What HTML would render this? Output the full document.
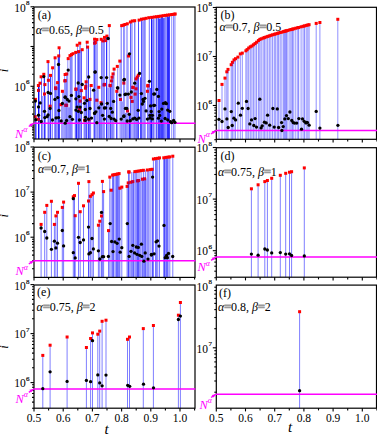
<!DOCTYPE html>
<html><head><meta charset="utf-8"><style>
html,body{margin:0;padding:0;background:#fff;width:377px;height:435px;overflow:hidden;font-family:"Liberation Serif",serif;}
svg text{font-family:"Liberation Serif",serif;}
</style></head><body>
<svg width="377" height="435" viewBox="0 0 377 435" style="position:absolute;left:0;top:0">
<rect x="0" y="0" width="377" height="435" fill="#fff"/>
<g stroke="#0000ff" stroke-width="1">
<line x1="35.5" y1="139.0" x2="35.5" y2="99.4" stroke-opacity="0.71"/>
<line x1="36.4" y1="139.0" x2="36.4" y2="121.3" stroke-opacity="0.43"/>
<line x1="38.5" y1="139.0" x2="38.5" y2="85.5" stroke-opacity="0.95"/>
<line x1="39.5" y1="139.0" x2="39.5" y2="83.2" stroke-opacity="0.43"/>
<line x1="41.5" y1="139.0" x2="41.5" y2="76.8" stroke-opacity="0.57"/>
<line x1="42.4" y1="139.0" x2="42.4" y2="96.0" stroke-opacity="0.43"/>
<line x1="44.3" y1="139.0" x2="44.3" y2="74.3" stroke-opacity="1.00"/>
<line x1="45.5" y1="139.0" x2="45.5" y2="96.0" stroke-opacity="0.43"/>
<line x1="48.2" y1="139.0" x2="48.2" y2="61.6" stroke-opacity="0.84"/>
<line x1="49.6" y1="139.0" x2="49.6" y2="106.2" stroke-opacity="0.43"/>
<line x1="50.7" y1="139.0" x2="50.7" y2="75.4" stroke-opacity="0.95"/>
<line x1="52.5" y1="139.0" x2="52.5" y2="67.8" stroke-opacity="0.43"/>
<line x1="54.9" y1="139.0" x2="54.9" y2="57.8" stroke-opacity="0.71"/>
<line x1="55.9" y1="139.0" x2="55.9" y2="87.8" stroke-opacity="0.71"/>
<line x1="57.0" y1="139.0" x2="57.0" y2="82.6" stroke-opacity="0.43"/>
<line x1="58.3" y1="139.0" x2="58.3" y2="55.9" stroke-opacity="1.00"/>
<line x1="59.5" y1="139.0" x2="59.5" y2="47.8" stroke-opacity="0.71"/>
<line x1="61.6" y1="139.0" x2="61.6" y2="104.7" stroke-opacity="0.43"/>
<line x1="63.0" y1="139.0" x2="63.0" y2="91.3" stroke-opacity="0.71"/>
<line x1="64.6" y1="139.0" x2="64.6" y2="74.5" stroke-opacity="0.43"/>
<line x1="65.8" y1="139.0" x2="65.8" y2="80.6" stroke-opacity="0.57"/>
<line x1="66.8" y1="139.0" x2="66.8" y2="74.0" stroke-opacity="0.57"/>
<line x1="67.8" y1="139.0" x2="67.8" y2="58.6" stroke-opacity="0.43"/>
<line x1="69.0" y1="139.0" x2="69.0" y2="107.3" stroke-opacity="0.71"/>
<line x1="70.2" y1="139.0" x2="70.2" y2="55.6" stroke-opacity="0.57"/>
<line x1="71.2" y1="139.0" x2="71.2" y2="54.6" stroke-opacity="0.57"/>
<line x1="72.2" y1="139.0" x2="72.2" y2="53.7" stroke-opacity="0.43"/>
<line x1="75.3" y1="139.0" x2="75.3" y2="52.4" stroke-opacity="0.71"/>
<line x1="76.5" y1="139.0" x2="76.5" y2="89.0" stroke-opacity="0.84"/>
<line x1="77.5" y1="139.0" x2="77.5" y2="45.2" stroke-opacity="0.43"/>
<line x1="78.8" y1="139.0" x2="78.8" y2="51.6" stroke-opacity="0.95"/>
<line x1="80.0" y1="139.0" x2="80.0" y2="43.2" stroke-opacity="0.71"/>
<line x1="81.4" y1="139.0" x2="81.4" y2="49.7" stroke-opacity="0.71"/>
<line x1="84.2" y1="139.0" x2="84.2" y2="97.8" stroke-opacity="0.71"/>
<line x1="86.0" y1="139.0" x2="86.0" y2="81.8" stroke-opacity="0.95"/>
<line x1="86.6" y1="139.0" x2="86.6" y2="42.2" stroke-opacity="0.43"/>
<line x1="88.3" y1="139.0" x2="88.3" y2="47.1" stroke-opacity="0.95"/>
<line x1="89.5" y1="139.0" x2="89.5" y2="99.4" stroke-opacity="0.57"/>
<line x1="90.6" y1="139.0" x2="90.6" y2="85.5" stroke-opacity="0.57"/>
<line x1="94.2" y1="139.0" x2="94.2" y2="39.2" stroke-opacity="1.00"/>
<line x1="95.5" y1="139.0" x2="95.5" y2="42.5" stroke-opacity="0.43"/>
<line x1="97.0" y1="139.0" x2="97.0" y2="39.6" stroke-opacity="0.71"/>
<line x1="98.2" y1="139.0" x2="98.2" y2="87.3" stroke-opacity="0.43"/>
<line x1="99.4" y1="139.0" x2="99.4" y2="104.7" stroke-opacity="0.71"/>
<line x1="100.6" y1="139.0" x2="100.6" y2="102.7" stroke-opacity="0.57"/>
<line x1="101.8" y1="139.0" x2="101.8" y2="39.3" stroke-opacity="0.71"/>
<line x1="103.0" y1="139.0" x2="103.0" y2="40.9" stroke-opacity="0.43"/>
<line x1="104.1" y1="139.0" x2="104.1" y2="37.4" stroke-opacity="0.71"/>
<line x1="106.7" y1="139.0" x2="106.7" y2="36.1" stroke-opacity="1.00"/>
<line x1="108.1" y1="139.0" x2="108.1" y2="87.7" stroke-opacity="0.57"/>
<line x1="109.3" y1="139.0" x2="109.3" y2="25.6" stroke-opacity="0.43"/>
<line x1="110.5" y1="139.0" x2="110.5" y2="85.3" stroke-opacity="0.71"/>
<line x1="111.7" y1="139.0" x2="111.7" y2="77.2" stroke-opacity="0.57"/>
<line x1="112.9" y1="139.0" x2="112.9" y2="73.9" stroke-opacity="0.71"/>
<line x1="114.0" y1="139.0" x2="114.0" y2="69.1" stroke-opacity="0.43"/>
<line x1="116.5" y1="139.0" x2="116.5" y2="91.3" stroke-opacity="0.71"/>
<line x1="117.7" y1="139.0" x2="117.7" y2="66.4" stroke-opacity="0.43"/>
<line x1="120.0" y1="139.0" x2="120.0" y2="61.1" stroke-opacity="0.43"/>
<line x1="121.2" y1="139.0" x2="121.2" y2="25.6" stroke-opacity="0.57"/>
<line x1="122.4" y1="139.0" x2="122.4" y2="101.5" stroke-opacity="0.43"/>
<line x1="123.5" y1="139.0" x2="123.5" y2="25.2" stroke-opacity="0.43"/>
<line x1="124.6" y1="139.0" x2="124.6" y2="24.5" stroke-opacity="0.43"/>
<line x1="125.8" y1="139.0" x2="125.8" y2="112.9" stroke-opacity="0.71"/>
<line x1="127.0" y1="139.0" x2="127.0" y2="23.8" stroke-opacity="0.57"/>
<line x1="128.2" y1="139.0" x2="128.2" y2="56.0" stroke-opacity="0.43"/>
<line x1="129.4" y1="139.0" x2="129.4" y2="112.9" stroke-opacity="0.95"/>
<line x1="130.6" y1="139.0" x2="130.6" y2="22.0" stroke-opacity="0.71"/>
<line x1="132.0" y1="139.0" x2="132.0" y2="21.0" stroke-opacity="0.57"/>
<line x1="133.4" y1="139.0" x2="133.4" y2="87.2" stroke-opacity="0.43"/>
<line x1="134.8" y1="139.0" x2="134.8" y2="20.7" stroke-opacity="0.71"/>
<line x1="136.1" y1="139.0" x2="136.1" y2="78.9" stroke-opacity="0.71"/>
<line x1="137.3" y1="139.0" x2="137.3" y2="77.1" stroke-opacity="0.71"/>
<line x1="138.5" y1="139.0" x2="138.5" y2="20.1" stroke-opacity="0.71"/>
<line x1="140.5" y1="139.0" x2="140.5" y2="77.3" stroke-opacity="0.71"/>
<line x1="141.7" y1="139.0" x2="141.7" y2="19.2" stroke-opacity="0.84"/>
<line x1="142.9" y1="139.0" x2="142.9" y2="21.2" stroke-opacity="0.43"/>
<line x1="144.1" y1="139.0" x2="144.1" y2="18.8" stroke-opacity="0.71"/>
<line x1="145.3" y1="139.0" x2="145.3" y2="18.3" stroke-opacity="0.43"/>
<line x1="147.9" y1="139.0" x2="147.9" y2="85.4" stroke-opacity="0.84"/>
<line x1="149.3" y1="139.0" x2="149.3" y2="17.7" stroke-opacity="0.57"/>
<line x1="150.5" y1="139.0" x2="150.5" y2="88.0" stroke-opacity="0.71"/>
<line x1="151.6" y1="139.0" x2="151.6" y2="17.4" stroke-opacity="1.00"/>
<line x1="152.8" y1="139.0" x2="152.8" y2="19.4" stroke-opacity="0.57"/>
<line x1="153.7" y1="139.0" x2="153.7" y2="17.0" stroke-opacity="0.57"/>
<line x1="155.0" y1="139.0" x2="155.0" y2="19.0" stroke-opacity="0.43"/>
<line x1="156.6" y1="139.0" x2="156.6" y2="16.7" stroke-opacity="0.71"/>
<line x1="158.2" y1="139.0" x2="158.2" y2="16.4" stroke-opacity="0.95"/>
<line x1="159.2" y1="139.0" x2="159.2" y2="18.7" stroke-opacity="0.95"/>
<line x1="160.2" y1="139.0" x2="160.2" y2="18.4" stroke-opacity="0.95"/>
<line x1="161.4" y1="139.0" x2="161.4" y2="16.1" stroke-opacity="0.84"/>
<line x1="162.6" y1="139.0" x2="162.6" y2="15.7" stroke-opacity="0.84"/>
<line x1="163.6" y1="139.0" x2="163.6" y2="18.1" stroke-opacity="0.71"/>
<line x1="164.6" y1="139.0" x2="164.6" y2="17.7" stroke-opacity="0.57"/>
<line x1="165.9" y1="139.0" x2="165.9" y2="15.4" stroke-opacity="0.71"/>
<line x1="167.3" y1="139.0" x2="167.3" y2="15.1" stroke-opacity="0.95"/>
<line x1="168.3" y1="139.0" x2="168.3" y2="17.1" stroke-opacity="1.00"/>
<line x1="169.3" y1="139.0" x2="169.3" y2="14.8" stroke-opacity="0.95"/>
<line x1="171.7" y1="139.0" x2="171.7" y2="14.5" stroke-opacity="0.43"/>
<line x1="173.7" y1="139.0" x2="173.7" y2="14.2" stroke-opacity="0.57"/>
<line x1="175.0" y1="139.0" x2="175.0" y2="14.0" stroke-opacity="0.43"/>
</g>
<g fill="#ff0000">
<rect x="36.9" y="84.0" width="3" height="3"/>
<rect x="38.5" y="81.7" width="3" height="3"/>
<rect x="39.6" y="75.3" width="3" height="3"/>
<rect x="42.3" y="72.8" width="3" height="3"/>
<rect x="43.4" y="83.1" width="3" height="3"/>
<rect x="46.5" y="60.1" width="3" height="3"/>
<rect x="46.9" y="78.8" width="3" height="3"/>
<rect x="49.0" y="73.9" width="3" height="3"/>
<rect x="51.1" y="66.3" width="3" height="3"/>
<rect x="53.6" y="56.3" width="3" height="3"/>
<rect x="54.1" y="86.3" width="3" height="3"/>
<rect x="56.1" y="81.1" width="3" height="3"/>
<rect x="57.2" y="54.4" width="3" height="3"/>
<rect x="57.6" y="46.3" width="3" height="3"/>
<rect x="63.6" y="73.0" width="3" height="3"/>
<rect x="63.3" y="79.4" width="3" height="3"/>
<rect x="37.0" y="88.9" width="3" height="3"/>
<rect x="43.0" y="92.5" width="3" height="3"/>
<rect x="33.9" y="97.9" width="3" height="3"/>
<rect x="48.6" y="104.7" width="3" height="3"/>
<rect x="54.2" y="87.1" width="3" height="3"/>
<rect x="60.9" y="89.8" width="3" height="3"/>
<rect x="59.4" y="103.2" width="3" height="3"/>
<rect x="64.2" y="103.8" width="3" height="3"/>
<rect x="33.7" y="115.2" width="3" height="3"/>
<rect x="37.0" y="117.8" width="3" height="3"/>
<rect x="66.7" y="57.1" width="3" height="3"/>
<rect x="68.5" y="54.1" width="3" height="3"/>
<rect x="70.0" y="53.1" width="3" height="3"/>
<rect x="71.5" y="52.2" width="3" height="3"/>
<rect x="74.2" y="50.9" width="3" height="3"/>
<rect x="75.7" y="43.7" width="3" height="3"/>
<rect x="77.1" y="50.1" width="3" height="3"/>
<rect x="78.2" y="41.7" width="3" height="3"/>
<rect x="80.7" y="48.2" width="3" height="3"/>
<rect x="85.7" y="40.7" width="3" height="3"/>
<rect x="86.1" y="45.6" width="3" height="3"/>
<rect x="93.1" y="41.7" width="3" height="3"/>
<rect x="93.1" y="37.7" width="3" height="3"/>
<rect x="65.2" y="72.5" width="3" height="3"/>
<rect x="63.7" y="79.1" width="3" height="3"/>
<rect x="84.6" y="80.3" width="3" height="3"/>
<rect x="84.2" y="84.8" width="3" height="3"/>
<rect x="89.7" y="84.0" width="3" height="3"/>
<rect x="74.5" y="87.5" width="3" height="3"/>
<rect x="74.4" y="87.9" width="3" height="3"/>
<rect x="79.8" y="89.1" width="3" height="3"/>
<rect x="84.0" y="86.7" width="3" height="3"/>
<rect x="65.1" y="103.8" width="3" height="3"/>
<rect x="78.6" y="99.6" width="3" height="3"/>
<rect x="82.6" y="96.3" width="3" height="3"/>
<rect x="88.5" y="97.9" width="3" height="3"/>
<rect x="78.0" y="108.0" width="3" height="3"/>
<rect x="83.0" y="118.8" width="3" height="3"/>
<rect x="87.6" y="118.2" width="3" height="3"/>
<rect x="93.8" y="41.0" width="3" height="3"/>
<rect x="95.4" y="38.1" width="3" height="3"/>
<rect x="99.7" y="37.8" width="3" height="3"/>
<rect x="101.4" y="39.4" width="3" height="3"/>
<rect x="103.0" y="35.9" width="3" height="3"/>
<rect x="104.1" y="39.1" width="3" height="3"/>
<rect x="105.4" y="34.6" width="3" height="3"/>
<rect x="107.8" y="24.1" width="3" height="3"/>
<rect x="118.3" y="59.6" width="3" height="3"/>
<rect x="115.8" y="64.9" width="3" height="3"/>
<rect x="112.6" y="67.6" width="3" height="3"/>
<rect x="111.5" y="72.4" width="3" height="3"/>
<rect x="110.5" y="75.7" width="3" height="3"/>
<rect x="109.9" y="79.4" width="3" height="3"/>
<rect x="120.2" y="24.1" width="3" height="3"/>
<rect x="121.8" y="23.7" width="3" height="3"/>
<rect x="123.4" y="23.0" width="3" height="3"/>
<rect x="103.0" y="82.9" width="3" height="3"/>
<rect x="97.3" y="85.8" width="3" height="3"/>
<rect x="108.6" y="84.2" width="3" height="3"/>
<rect x="122.3" y="81.6" width="3" height="3"/>
<rect x="95.3" y="98.7" width="3" height="3"/>
<rect x="99.5" y="101.2" width="3" height="3"/>
<rect x="115.3" y="89.8" width="3" height="3"/>
<rect x="119.0" y="98.0" width="3" height="3"/>
<rect x="102.6" y="83.5" width="3" height="3"/>
<rect x="108.7" y="83.8" width="3" height="3"/>
<rect x="125.8" y="22.3" width="3" height="3"/>
<rect x="128.9" y="20.5" width="3" height="3"/>
<rect x="130.8" y="19.5" width="3" height="3"/>
<rect x="133.2" y="19.2" width="3" height="3"/>
<rect x="137.6" y="18.6" width="3" height="3"/>
<rect x="140.0" y="17.7" width="3" height="3"/>
<rect x="142.4" y="17.3" width="3" height="3"/>
<rect x="144.6" y="16.8" width="3" height="3"/>
<rect x="147.3" y="16.2" width="3" height="3"/>
<rect x="150.1" y="15.9" width="3" height="3"/>
<rect x="152.8" y="15.5" width="3" height="3"/>
<rect x="127.1" y="54.5" width="3" height="3"/>
<rect x="134.5" y="77.4" width="3" height="3"/>
<rect x="135.7" y="75.6" width="3" height="3"/>
<rect x="136.8" y="73.8" width="3" height="3"/>
<rect x="131.7" y="85.7" width="3" height="3"/>
<rect x="146.4" y="83.9" width="3" height="3"/>
<rect x="131.3" y="86.0" width="3" height="3"/>
<rect x="134.5" y="87.3" width="3" height="3"/>
<rect x="133.6" y="92.6" width="3" height="3"/>
<rect x="129.5" y="95.9" width="3" height="3"/>
<rect x="130.7" y="99.9" width="3" height="3"/>
<rect x="146.3" y="84.5" width="3" height="3"/>
<rect x="145.9" y="89.8" width="3" height="3"/>
<rect x="126.0" y="109.4" width="3" height="3"/>
<rect x="155.0" y="15.2" width="3" height="3"/>
<rect x="157.2" y="14.9" width="3" height="3"/>
<rect x="159.4" y="14.6" width="3" height="3"/>
<rect x="161.6" y="14.2" width="3" height="3"/>
<rect x="163.8" y="13.9" width="3" height="3"/>
<rect x="166.0" y="13.6" width="3" height="3"/>
<rect x="168.2" y="13.3" width="3" height="3"/>
<rect x="170.4" y="13.0" width="3" height="3"/>
<rect x="172.6" y="12.7" width="3" height="3"/>
<rect x="173.7" y="12.5" width="3" height="3"/>
</g>
<g stroke="#0000ff" stroke-width="1"><line x1="39.5" y1="84.0" x2="39.5" y2="87.0" stroke-opacity="0.25"/><line x1="41.5" y1="81.7" x2="41.5" y2="84.7" stroke-opacity="0.25"/><line x1="44.3" y1="83.1" x2="44.3" y2="86.1" stroke-opacity="0.25"/><line x1="48.2" y1="78.8" x2="48.2" y2="81.8" stroke-opacity="0.25"/><line x1="54.9" y1="86.3" x2="54.9" y2="89.3" stroke-opacity="0.25"/><line x1="57.0" y1="86.3" x2="57.0" y2="89.3" stroke-opacity="0.25"/><line x1="58.3" y1="81.1" x2="58.3" y2="84.1" stroke-opacity="0.25"/><line x1="59.5" y1="54.4" x2="59.5" y2="57.4" stroke-opacity="0.25"/><line x1="64.6" y1="79.4" x2="64.6" y2="82.4" stroke-opacity="0.25"/><line x1="38.5" y1="88.9" x2="38.5" y2="91.9" stroke-opacity="0.25"/><line x1="39.5" y1="88.9" x2="39.5" y2="91.9" stroke-opacity="0.25"/><line x1="44.3" y1="92.5" x2="44.3" y2="95.5" stroke-opacity="0.25"/><line x1="50.7" y1="104.7" x2="50.7" y2="107.7" stroke-opacity="0.25"/><line x1="54.9" y1="87.1" x2="54.9" y2="90.1" stroke-opacity="0.25"/><line x1="57.0" y1="87.1" x2="57.0" y2="90.1" stroke-opacity="0.25"/><line x1="59.5" y1="103.2" x2="59.5" y2="106.2" stroke-opacity="0.25"/><line x1="64.6" y1="103.8" x2="64.6" y2="106.8" stroke-opacity="0.25"/><line x1="65.8" y1="103.8" x2="65.8" y2="106.8" stroke-opacity="0.25"/><line x1="66.8" y1="103.8" x2="66.8" y2="106.8" stroke-opacity="0.25"/><line x1="35.5" y1="115.2" x2="35.5" y2="118.2" stroke-opacity="0.25"/><line x1="38.5" y1="117.8" x2="38.5" y2="120.8" stroke-opacity="0.25"/><line x1="39.5" y1="117.8" x2="39.5" y2="120.8" stroke-opacity="0.25"/><line x1="77.5" y1="50.1" x2="77.5" y2="53.1" stroke-opacity="0.25"/><line x1="80.0" y1="50.1" x2="80.0" y2="53.1" stroke-opacity="0.25"/><line x1="86.6" y1="45.6" x2="86.6" y2="48.6" stroke-opacity="0.25"/><line x1="94.2" y1="41.7" x2="94.2" y2="44.7" stroke-opacity="0.25"/><line x1="67.8" y1="72.5" x2="67.8" y2="75.5" stroke-opacity="0.25"/><line x1="64.6" y1="79.1" x2="64.6" y2="82.1" stroke-opacity="0.25"/><line x1="66.8" y1="79.1" x2="66.8" y2="82.1" stroke-opacity="0.25"/><line x1="86.6" y1="80.3" x2="86.6" y2="83.3" stroke-opacity="0.25"/><line x1="86.0" y1="84.8" x2="86.0" y2="87.8" stroke-opacity="0.25"/><line x1="86.6" y1="84.8" x2="86.6" y2="87.8" stroke-opacity="0.25"/><line x1="75.3" y1="87.5" x2="75.3" y2="90.5" stroke-opacity="0.25"/><line x1="77.5" y1="87.5" x2="77.5" y2="90.5" stroke-opacity="0.25"/><line x1="75.3" y1="87.9" x2="75.3" y2="90.9" stroke-opacity="0.25"/><line x1="77.5" y1="87.9" x2="77.5" y2="90.9" stroke-opacity="0.25"/><line x1="80.0" y1="89.1" x2="80.0" y2="92.1" stroke-opacity="0.25"/><line x1="81.4" y1="89.1" x2="81.4" y2="92.1" stroke-opacity="0.25"/><line x1="86.0" y1="86.7" x2="86.0" y2="89.7" stroke-opacity="0.25"/><line x1="86.6" y1="86.7" x2="86.6" y2="89.7" stroke-opacity="0.25"/><line x1="65.8" y1="103.8" x2="65.8" y2="106.8" stroke-opacity="0.25"/><line x1="66.8" y1="103.8" x2="66.8" y2="106.8" stroke-opacity="0.25"/><line x1="67.8" y1="103.8" x2="67.8" y2="106.8" stroke-opacity="0.25"/><line x1="78.8" y1="99.6" x2="78.8" y2="102.6" stroke-opacity="0.25"/><line x1="80.0" y1="99.6" x2="80.0" y2="102.6" stroke-opacity="0.25"/><line x1="81.4" y1="99.6" x2="81.4" y2="102.6" stroke-opacity="0.25"/><line x1="90.6" y1="97.9" x2="90.6" y2="100.9" stroke-opacity="0.25"/><line x1="78.8" y1="108.0" x2="78.8" y2="111.0" stroke-opacity="0.25"/><line x1="80.0" y1="108.0" x2="80.0" y2="111.0" stroke-opacity="0.25"/><line x1="84.2" y1="118.8" x2="84.2" y2="121.8" stroke-opacity="0.25"/><line x1="86.0" y1="118.8" x2="86.0" y2="121.8" stroke-opacity="0.25"/><line x1="88.3" y1="118.2" x2="88.3" y2="121.2" stroke-opacity="0.25"/><line x1="89.5" y1="118.2" x2="89.5" y2="121.2" stroke-opacity="0.25"/><line x1="90.6" y1="118.2" x2="90.6" y2="121.2" stroke-opacity="0.25"/><line x1="94.2" y1="41.0" x2="94.2" y2="44.0" stroke-opacity="0.25"/><line x1="104.1" y1="39.4" x2="104.1" y2="42.4" stroke-opacity="0.25"/><line x1="104.1" y1="39.1" x2="104.1" y2="42.1" stroke-opacity="0.25"/><line x1="106.7" y1="39.1" x2="106.7" y2="42.1" stroke-opacity="0.25"/><line x1="121.2" y1="59.6" x2="121.2" y2="62.6" stroke-opacity="0.25"/><line x1="114.0" y1="72.4" x2="114.0" y2="75.4" stroke-opacity="0.25"/><line x1="112.9" y1="75.7" x2="112.9" y2="78.7" stroke-opacity="0.25"/><line x1="111.7" y1="79.4" x2="111.7" y2="82.4" stroke-opacity="0.25"/><line x1="112.9" y1="79.4" x2="112.9" y2="82.4" stroke-opacity="0.25"/><line x1="103.0" y1="82.9" x2="103.0" y2="85.9" stroke-opacity="0.25"/><line x1="104.1" y1="82.9" x2="104.1" y2="85.9" stroke-opacity="0.25"/><line x1="109.3" y1="84.2" x2="109.3" y2="87.2" stroke-opacity="0.25"/><line x1="123.5" y1="81.6" x2="123.5" y2="84.6" stroke-opacity="0.25"/><line x1="124.6" y1="81.6" x2="124.6" y2="84.6" stroke-opacity="0.25"/><line x1="95.5" y1="98.7" x2="95.5" y2="101.7" stroke-opacity="0.25"/><line x1="97.0" y1="98.7" x2="97.0" y2="101.7" stroke-opacity="0.25"/><line x1="98.2" y1="98.7" x2="98.2" y2="101.7" stroke-opacity="0.25"/><line x1="101.8" y1="101.2" x2="101.8" y2="104.2" stroke-opacity="0.25"/><line x1="117.7" y1="89.8" x2="117.7" y2="92.8" stroke-opacity="0.25"/><line x1="120.0" y1="98.0" x2="120.0" y2="101.0" stroke-opacity="0.25"/><line x1="121.2" y1="98.0" x2="121.2" y2="101.0" stroke-opacity="0.25"/><line x1="103.0" y1="83.5" x2="103.0" y2="86.5" stroke-opacity="0.25"/><line x1="104.1" y1="83.5" x2="104.1" y2="86.5" stroke-opacity="0.25"/><line x1="109.3" y1="83.8" x2="109.3" y2="86.8" stroke-opacity="0.25"/><line x1="111.7" y1="83.8" x2="111.7" y2="86.8" stroke-opacity="0.25"/><line x1="127.0" y1="54.5" x2="127.0" y2="57.5" stroke-opacity="0.25"/><line x1="134.8" y1="77.4" x2="134.8" y2="80.4" stroke-opacity="0.25"/><line x1="137.3" y1="77.4" x2="137.3" y2="80.4" stroke-opacity="0.25"/><line x1="138.5" y1="75.6" x2="138.5" y2="78.6" stroke-opacity="0.25"/><line x1="138.5" y1="73.8" x2="138.5" y2="76.8" stroke-opacity="0.25"/><line x1="132.0" y1="85.7" x2="132.0" y2="88.7" stroke-opacity="0.25"/><line x1="149.3" y1="83.9" x2="149.3" y2="86.9" stroke-opacity="0.25"/><line x1="132.0" y1="86.0" x2="132.0" y2="89.0" stroke-opacity="0.25"/><line x1="134.8" y1="87.3" x2="134.8" y2="90.3" stroke-opacity="0.25"/><line x1="136.1" y1="87.3" x2="136.1" y2="90.3" stroke-opacity="0.25"/><line x1="137.3" y1="87.3" x2="137.3" y2="90.3" stroke-opacity="0.25"/><line x1="134.8" y1="92.6" x2="134.8" y2="95.6" stroke-opacity="0.25"/><line x1="136.1" y1="92.6" x2="136.1" y2="95.6" stroke-opacity="0.25"/><line x1="130.6" y1="95.9" x2="130.6" y2="98.9" stroke-opacity="0.25"/><line x1="132.0" y1="95.9" x2="132.0" y2="98.9" stroke-opacity="0.25"/><line x1="130.6" y1="99.9" x2="130.6" y2="102.9" stroke-opacity="0.25"/><line x1="132.0" y1="99.9" x2="132.0" y2="102.9" stroke-opacity="0.25"/><line x1="133.4" y1="99.9" x2="133.4" y2="102.9" stroke-opacity="0.25"/><line x1="149.3" y1="84.5" x2="149.3" y2="87.5" stroke-opacity="0.25"/><line x1="147.9" y1="89.8" x2="147.9" y2="92.8" stroke-opacity="0.25"/><line x1="127.0" y1="109.4" x2="127.0" y2="112.4" stroke-opacity="0.25"/><line x1="128.2" y1="109.4" x2="128.2" y2="112.4" stroke-opacity="0.25"/></g>
<rect x="34" y="7" width="161" height="132" fill="none" stroke="#000" stroke-width="1.2"/>
<g stroke="#000" stroke-width="1.1"><line x1="32.0" y1="138.0" x2="34" y2="138.0"/><line x1="32.0" y1="134.9" x2="34" y2="134.9"/><line x1="32.0" y1="132.2" x2="34" y2="132.2"/><line x1="32.0" y1="129.9" x2="34" y2="129.9"/><line x1="32.0" y1="127.9" x2="34" y2="127.9"/><line x1="30.5" y1="126.0" x2="34" y2="126.0"/><line x1="32.0" y1="114.1" x2="34" y2="114.1"/><line x1="32.0" y1="107.1" x2="34" y2="107.1"/><line x1="32.0" y1="102.1" x2="34" y2="102.1"/><line x1="32.0" y1="98.3" x2="34" y2="98.3"/><line x1="32.0" y1="95.1" x2="34" y2="95.1"/><line x1="32.0" y1="92.5" x2="34" y2="92.5"/><line x1="32.0" y1="90.2" x2="34" y2="90.2"/><line x1="32.0" y1="88.1" x2="34" y2="88.1"/><line x1="30.5" y1="86.3" x2="34" y2="86.3"/><line x1="32.0" y1="74.3" x2="34" y2="74.3"/><line x1="32.0" y1="67.3" x2="34" y2="67.3"/><line x1="32.0" y1="62.4" x2="34" y2="62.4"/><line x1="32.0" y1="58.5" x2="34" y2="58.5"/><line x1="32.0" y1="55.4" x2="34" y2="55.4"/><line x1="32.0" y1="52.7" x2="34" y2="52.7"/><line x1="32.0" y1="50.4" x2="34" y2="50.4"/><line x1="32.0" y1="48.4" x2="34" y2="48.4"/><line x1="30.5" y1="46.5" x2="34" y2="46.5"/><line x1="32.0" y1="34.6" x2="34" y2="34.6"/><line x1="32.0" y1="27.6" x2="34" y2="27.6"/><line x1="32.0" y1="22.6" x2="34" y2="22.6"/><line x1="32.0" y1="18.8" x2="34" y2="18.8"/><line x1="32.0" y1="15.6" x2="34" y2="15.6"/><line x1="32.0" y1="13.0" x2="34" y2="13.0"/><line x1="32.0" y1="10.7" x2="34" y2="10.7"/><line x1="32.0" y1="8.6" x2="34" y2="8.6"/><line x1="30.5" y1="6.8" x2="34" y2="6.8"/><line x1="34.0" y1="139" x2="34.0" y2="142.2"/><line x1="48.6" y1="139" x2="48.6" y2="141.2"/><line x1="63.2" y1="139" x2="63.2" y2="142.2"/><line x1="77.8" y1="139" x2="77.8" y2="141.2"/><line x1="92.4" y1="139" x2="92.4" y2="142.2"/><line x1="107.0" y1="139" x2="107.0" y2="141.2"/><line x1="121.6" y1="139" x2="121.6" y2="142.2"/><line x1="136.2" y1="139" x2="136.2" y2="141.2"/><line x1="150.8" y1="139" x2="150.8" y2="142.2"/><line x1="165.4" y1="139" x2="165.4" y2="141.2"/><line x1="180.0" y1="139" x2="180.0" y2="142.2"/><line x1="194.6" y1="139" x2="194.6" y2="141.2"/></g>
<line x1="33.4" y1="123.2" x2="195.5" y2="123.2" stroke="#ff00ff" stroke-width="1.6"/>
<g fill="#000">
<circle cx="43.8" cy="76.6" r="1.65"/>
<circle cx="58.5" cy="64.5" r="1.65"/>
<circle cx="35.4" cy="101.1" r="1.65"/>
<circle cx="40.2" cy="102.9" r="1.65"/>
<circle cx="38.5" cy="106.9" r="1.65"/>
<circle cx="48.1" cy="92.5" r="1.65"/>
<circle cx="50.5" cy="93.4" r="1.65"/>
<circle cx="54.9" cy="99.4" r="1.65"/>
<circle cx="57.7" cy="97.6" r="1.65"/>
<circle cx="65.1" cy="97.3" r="1.65"/>
<circle cx="62.4" cy="103.5" r="1.65"/>
<circle cx="50.1" cy="108.5" r="1.65"/>
<circle cx="44.5" cy="111.3" r="1.65"/>
<circle cx="58.9" cy="110.5" r="1.65"/>
<circle cx="38.5" cy="115.2" r="1.65"/>
<circle cx="48.1" cy="114.9" r="1.65"/>
<circle cx="44.8" cy="117.6" r="1.65"/>
<circle cx="47.1" cy="116.7" r="1.65"/>
<circle cx="35.8" cy="119.7" r="1.65"/>
<circle cx="41.2" cy="121.5" r="1.65"/>
<circle cx="52.5" cy="120.0" r="1.65"/>
<circle cx="56.1" cy="117.9" r="1.65"/>
<circle cx="58.5" cy="117.6" r="1.65"/>
<circle cx="61.2" cy="120.9" r="1.65"/>
<circle cx="68.2" cy="70.1" r="1.65"/>
<circle cx="78.2" cy="83.0" r="1.65"/>
<circle cx="82.2" cy="84.5" r="1.65"/>
<circle cx="88.7" cy="77.0" r="1.65"/>
<circle cx="94.9" cy="72.1" r="1.65"/>
<circle cx="65.2" cy="97.0" r="1.65"/>
<circle cx="67.3" cy="99.4" r="1.65"/>
<circle cx="69.0" cy="101.1" r="1.65"/>
<circle cx="71.4" cy="95.4" r="1.65"/>
<circle cx="75.9" cy="98.8" r="1.65"/>
<circle cx="78.9" cy="96.6" r="1.65"/>
<circle cx="84.5" cy="103.3" r="1.65"/>
<circle cx="86.9" cy="100.5" r="1.65"/>
<circle cx="77.1" cy="107.1" r="1.65"/>
<circle cx="80.1" cy="107.1" r="1.65"/>
<circle cx="75.9" cy="110.1" r="1.65"/>
<circle cx="78.3" cy="111.3" r="1.65"/>
<circle cx="81.3" cy="112.5" r="1.65"/>
<circle cx="85.3" cy="109.5" r="1.65"/>
<circle cx="90.0" cy="108.5" r="1.65"/>
<circle cx="94.5" cy="113.1" r="1.65"/>
<circle cx="93.6" cy="90.2" r="1.65"/>
<circle cx="70.0" cy="116.7" r="1.65"/>
<circle cx="72.4" cy="119.3" r="1.65"/>
<circle cx="66.6" cy="120.5" r="1.65"/>
<circle cx="65.2" cy="123.2" r="1.65"/>
<circle cx="79.5" cy="120.0" r="1.65"/>
<circle cx="85.5" cy="117.3" r="1.65"/>
<circle cx="88.5" cy="119.1" r="1.65"/>
<circle cx="91.5" cy="118.1" r="1.65"/>
<circle cx="85.3" cy="120.3" r="1.65"/>
<circle cx="108.2" cy="38.5" r="1.65"/>
<circle cx="95.3" cy="71.9" r="1.65"/>
<circle cx="101.2" cy="77.6" r="1.65"/>
<circle cx="106.6" cy="77.6" r="1.65"/>
<circle cx="123.8" cy="79.9" r="1.65"/>
<circle cx="117.8" cy="88.0" r="1.65"/>
<circle cx="117.4" cy="87.8" r="1.65"/>
<circle cx="119.9" cy="95.1" r="1.65"/>
<circle cx="125.0" cy="94.5" r="1.65"/>
<circle cx="113.6" cy="101.4" r="1.65"/>
<circle cx="107.3" cy="103.3" r="1.65"/>
<circle cx="101.6" cy="104.0" r="1.65"/>
<circle cx="98.8" cy="107.8" r="1.65"/>
<circle cx="104.4" cy="108.0" r="1.65"/>
<circle cx="105.6" cy="107.8" r="1.65"/>
<circle cx="110.7" cy="108.4" r="1.65"/>
<circle cx="112.3" cy="112.2" r="1.65"/>
<circle cx="125.4" cy="108.4" r="1.65"/>
<circle cx="95.9" cy="111.8" r="1.65"/>
<circle cx="94.6" cy="113.4" r="1.65"/>
<circle cx="102.6" cy="115.3" r="1.65"/>
<circle cx="104.4" cy="119.1" r="1.65"/>
<circle cx="109.2" cy="116.4" r="1.65"/>
<circle cx="111.1" cy="118.5" r="1.65"/>
<circle cx="114.0" cy="119.1" r="1.65"/>
<circle cx="115.7" cy="120.7" r="1.65"/>
<circle cx="121.2" cy="119.1" r="1.65"/>
<circle cx="123.7" cy="116.4" r="1.65"/>
<circle cx="96.8" cy="122.7" r="1.65"/>
<circle cx="129.5" cy="53.8" r="1.65"/>
<circle cx="139.6" cy="73.4" r="1.65"/>
<circle cx="134.7" cy="83.2" r="1.65"/>
<circle cx="149.4" cy="81.3" r="1.65"/>
<circle cx="124.4" cy="79.5" r="1.65"/>
<circle cx="125.9" cy="94.1" r="1.65"/>
<circle cx="128.4" cy="94.1" r="1.65"/>
<circle cx="131.3" cy="92.0" r="1.65"/>
<circle cx="141.4" cy="93.6" r="1.65"/>
<circle cx="153.7" cy="94.1" r="1.65"/>
<circle cx="143.0" cy="99.5" r="1.65"/>
<circle cx="144.9" cy="98.3" r="1.65"/>
<circle cx="143.6" cy="101.4" r="1.65"/>
<circle cx="142.3" cy="104.0" r="1.65"/>
<circle cx="126.8" cy="108.4" r="1.65"/>
<circle cx="150.5" cy="105.9" r="1.65"/>
<circle cx="153.7" cy="105.5" r="1.65"/>
<circle cx="138.2" cy="110.3" r="1.65"/>
<circle cx="146.1" cy="110.9" r="1.65"/>
<circle cx="151.2" cy="111.5" r="1.65"/>
<circle cx="129.3" cy="114.3" r="1.65"/>
<circle cx="124.0" cy="116.0" r="1.65"/>
<circle cx="149.9" cy="115.3" r="1.65"/>
<circle cx="152.4" cy="115.3" r="1.65"/>
<circle cx="127.2" cy="121.0" r="1.65"/>
<circle cx="130.3" cy="120.7" r="1.65"/>
<circle cx="132.8" cy="118.9" r="1.65"/>
<circle cx="134.7" cy="118.1" r="1.65"/>
<circle cx="136.6" cy="119.4" r="1.65"/>
<circle cx="138.9" cy="118.1" r="1.65"/>
<circle cx="147.4" cy="119.1" r="1.65"/>
<circle cx="149.9" cy="118.1" r="1.65"/>
<circle cx="152.4" cy="118.9" r="1.65"/>
<circle cx="156.8" cy="89.4" r="1.65"/>
<circle cx="154.6" cy="93.9" r="1.65"/>
<circle cx="158.4" cy="96.4" r="1.65"/>
<circle cx="154.6" cy="105.3" r="1.65"/>
<circle cx="163.5" cy="103.4" r="1.65"/>
<circle cx="165.4" cy="102.7" r="1.65"/>
<circle cx="166.4" cy="103.7" r="1.65"/>
<circle cx="161.8" cy="109.1" r="1.65"/>
<circle cx="159.1" cy="111.6" r="1.65"/>
<circle cx="167.7" cy="110.1" r="1.65"/>
<circle cx="169.8" cy="111.3" r="1.65"/>
<circle cx="159.7" cy="115.4" r="1.65"/>
<circle cx="158.4" cy="118.2" r="1.65"/>
<circle cx="161.3" cy="121.1" r="1.65"/>
<circle cx="165.1" cy="118.5" r="1.65"/>
<circle cx="167.7" cy="119.8" r="1.65"/>
<circle cx="170.5" cy="121.7" r="1.65"/>
<circle cx="173.6" cy="120.4" r="1.65"/>
<circle cx="174.9" cy="122.3" r="1.65"/>
<circle cx="171.7" cy="122.7" r="1.65"/>
</g>
<g stroke="#0000ff" stroke-opacity="0.44" stroke-width="1">
<line x1="219.0" y1="139.3" x2="219.0" y2="100.5"/>
<line x1="222.0" y1="139.3" x2="222.0" y2="84.4"/>
<line x1="225.0" y1="139.3" x2="225.0" y2="78.1"/>
<line x1="226.8" y1="139.3" x2="226.8" y2="71.8"/>
<line x1="228.0" y1="139.3" x2="228.0" y2="69.4"/>
<line x1="231.2" y1="139.3" x2="231.2" y2="64.7"/>
<line x1="232.4" y1="139.3" x2="232.4" y2="62.3"/>
<line x1="234.0" y1="139.3" x2="234.0" y2="59.9"/>
<line x1="235.5" y1="139.3" x2="235.5" y2="58.7"/>
<line x1="237.9" y1="139.3" x2="237.9" y2="57.1"/>
<line x1="240.3" y1="139.3" x2="240.3" y2="53.9"/>
<line x1="242.3" y1="139.3" x2="242.3" y2="53.1"/>
<line x1="245.9" y1="139.3" x2="245.9" y2="50.8"/>
<line x1="247.1" y1="139.3" x2="247.1" y2="49.6"/>
<line x1="248.7" y1="139.3" x2="248.7" y2="48.0"/>
<line x1="250.3" y1="139.3" x2="250.3" y2="46.8"/>
<line x1="251.9" y1="139.3" x2="251.9" y2="46.0"/>
<line x1="253.4" y1="139.3" x2="253.4" y2="44.8"/>
<line x1="255.0" y1="139.3" x2="255.0" y2="43.6"/>
<line x1="256.6" y1="139.3" x2="256.6" y2="42.2"/>
<line x1="258.4" y1="139.3" x2="258.4" y2="40.6"/>
<line x1="259.8" y1="139.3" x2="259.8" y2="39.4"/>
<line x1="261.2" y1="139.3" x2="261.2" y2="38.8"/>
<line x1="263.1" y1="139.3" x2="263.1" y2="38.1"/>
<line x1="264.4" y1="139.3" x2="264.4" y2="37.6"/>
<line x1="266.0" y1="139.3" x2="266.0" y2="37.0"/>
<line x1="267.7" y1="139.3" x2="267.7" y2="36.4"/>
<line x1="269.3" y1="139.3" x2="269.3" y2="35.9"/>
<line x1="270.9" y1="139.3" x2="270.9" y2="35.3"/>
<line x1="272.6" y1="139.3" x2="272.6" y2="34.8"/>
<line x1="274.3" y1="139.3" x2="274.3" y2="34.3"/>
<line x1="275.7" y1="139.3" x2="275.7" y2="33.9"/>
<line x1="277.3" y1="139.3" x2="277.3" y2="33.4"/>
<line x1="278.6" y1="139.3" x2="278.6" y2="33.0"/>
<line x1="280.2" y1="139.3" x2="280.2" y2="32.5"/>
<line x1="281.9" y1="139.3" x2="281.9" y2="32.1"/>
<line x1="283.6" y1="139.3" x2="283.6" y2="31.6"/>
<line x1="284.6" y1="139.3" x2="284.6" y2="31.3"/>
<line x1="285.6" y1="139.3" x2="285.6" y2="31.0"/>
<line x1="286.5" y1="139.3" x2="286.5" y2="30.8"/>
<line x1="287.9" y1="139.3" x2="287.9" y2="30.4"/>
<line x1="289.9" y1="139.3" x2="289.9" y2="29.8"/>
<line x1="291.2" y1="139.3" x2="291.2" y2="29.5"/>
<line x1="292.5" y1="139.3" x2="292.5" y2="29.1"/>
<line x1="293.8" y1="139.3" x2="293.8" y2="28.8"/>
<line x1="295.8" y1="139.3" x2="295.8" y2="28.2"/>
<line x1="297.8" y1="139.3" x2="297.8" y2="27.7"/>
<line x1="298.7" y1="139.3" x2="298.7" y2="27.5"/>
<line x1="301.1" y1="139.3" x2="301.1" y2="26.8"/>
<line x1="303.1" y1="139.3" x2="303.1" y2="26.3"/>
<line x1="304.5" y1="139.3" x2="304.5" y2="25.9"/>
<line x1="306.2" y1="139.3" x2="306.2" y2="25.4"/>
<line x1="307.8" y1="139.3" x2="307.8" y2="25.0"/>
<line x1="309.1" y1="139.3" x2="309.1" y2="24.7"/>
<line x1="316.2" y1="139.3" x2="316.2" y2="23.4"/>
<line x1="319.9" y1="139.3" x2="319.9" y2="22.5"/>
<line x1="337.8" y1="139.3" x2="337.8" y2="19.3"/>
</g>
<g fill="#ff0000">
<rect x="217.5" y="99.0" width="3" height="3"/>
<rect x="220.5" y="82.9" width="3" height="3"/>
<rect x="223.5" y="76.6" width="3" height="3"/>
<rect x="225.3" y="70.3" width="3" height="3"/>
<rect x="226.5" y="67.9" width="3" height="3"/>
<rect x="229.7" y="63.2" width="3" height="3"/>
<rect x="230.9" y="60.8" width="3" height="3"/>
<rect x="232.5" y="58.4" width="3" height="3"/>
<rect x="234.0" y="57.2" width="3" height="3"/>
<rect x="236.4" y="55.6" width="3" height="3"/>
<rect x="238.8" y="52.4" width="3" height="3"/>
<rect x="240.8" y="51.6" width="3" height="3"/>
<rect x="244.4" y="49.3" width="3" height="3"/>
<rect x="245.6" y="48.1" width="3" height="3"/>
<rect x="247.2" y="46.5" width="3" height="3"/>
<rect x="248.8" y="45.3" width="3" height="3"/>
<rect x="250.4" y="44.5" width="3" height="3"/>
<rect x="251.9" y="43.3" width="3" height="3"/>
<rect x="253.5" y="42.1" width="3" height="3"/>
<rect x="255.1" y="40.7" width="3" height="3"/>
<rect x="256.9" y="39.1" width="3" height="3"/>
<rect x="258.3" y="37.9" width="3" height="3"/>
<rect x="259.7" y="37.3" width="3" height="3"/>
<rect x="261.6" y="36.6" width="3" height="3"/>
<rect x="262.9" y="36.1" width="3" height="3"/>
<rect x="264.5" y="35.5" width="3" height="3"/>
<rect x="266.2" y="34.9" width="3" height="3"/>
<rect x="267.8" y="34.4" width="3" height="3"/>
<rect x="269.4" y="33.8" width="3" height="3"/>
<rect x="271.1" y="33.3" width="3" height="3"/>
<rect x="272.8" y="32.8" width="3" height="3"/>
<rect x="274.2" y="32.4" width="3" height="3"/>
<rect x="275.8" y="31.9" width="3" height="3"/>
<rect x="277.1" y="31.5" width="3" height="3"/>
<rect x="278.7" y="31.0" width="3" height="3"/>
<rect x="280.4" y="30.6" width="3" height="3"/>
<rect x="282.1" y="30.1" width="3" height="3"/>
<rect x="283.1" y="29.8" width="3" height="3"/>
<rect x="284.1" y="29.5" width="3" height="3"/>
<rect x="285.0" y="29.3" width="3" height="3"/>
<rect x="286.4" y="28.9" width="3" height="3"/>
<rect x="288.4" y="28.3" width="3" height="3"/>
<rect x="289.7" y="28.0" width="3" height="3"/>
<rect x="291.0" y="27.6" width="3" height="3"/>
<rect x="292.3" y="27.3" width="3" height="3"/>
<rect x="294.3" y="26.7" width="3" height="3"/>
<rect x="296.3" y="26.2" width="3" height="3"/>
<rect x="297.2" y="26.0" width="3" height="3"/>
<rect x="299.6" y="25.3" width="3" height="3"/>
<rect x="301.6" y="24.8" width="3" height="3"/>
<rect x="303.0" y="24.4" width="3" height="3"/>
<rect x="304.7" y="23.9" width="3" height="3"/>
<rect x="306.3" y="23.5" width="3" height="3"/>
<rect x="307.6" y="23.2" width="3" height="3"/>
<rect x="314.7" y="21.9" width="3" height="3"/>
<rect x="318.4" y="21.0" width="3" height="3"/>
<rect x="336.3" y="17.8" width="3" height="3"/>
</g>
<g stroke="#0000ff" stroke-width="1"><line x1="228.0" y1="70.3" x2="228.0" y2="73.3" stroke-opacity="0.25"/><line x1="232.4" y1="63.2" x2="232.4" y2="66.2" stroke-opacity="0.25"/><line x1="234.0" y1="60.8" x2="234.0" y2="63.8" stroke-opacity="0.25"/></g>
<rect x="216.3" y="7.3" width="160.2" height="132.0" fill="none" stroke="#000" stroke-width="1.2"/>
<g stroke="#000" stroke-width="1.1"><line x1="214.3" y1="139.7" x2="216.3" y2="139.7"/><line x1="214.3" y1="131.1" x2="216.3" y2="131.1"/><line x1="214.3" y1="125.0" x2="216.3" y2="125.0"/><line x1="214.3" y1="120.3" x2="216.3" y2="120.3"/><line x1="214.3" y1="116.4" x2="216.3" y2="116.4"/><line x1="214.3" y1="113.1" x2="216.3" y2="113.1"/><line x1="214.3" y1="110.2" x2="216.3" y2="110.2"/><line x1="214.3" y1="107.7" x2="216.3" y2="107.7"/><line x1="212.8" y1="105.5" x2="216.3" y2="105.5"/><line x1="214.3" y1="90.7" x2="216.3" y2="90.7"/><line x1="214.3" y1="82.1" x2="216.3" y2="82.1"/><line x1="214.3" y1="76.0" x2="216.3" y2="76.0"/><line x1="214.3" y1="71.3" x2="216.3" y2="71.3"/><line x1="214.3" y1="67.4" x2="216.3" y2="67.4"/><line x1="214.3" y1="64.1" x2="216.3" y2="64.1"/><line x1="214.3" y1="61.2" x2="216.3" y2="61.2"/><line x1="214.3" y1="58.7" x2="216.3" y2="58.7"/><line x1="212.8" y1="56.5" x2="216.3" y2="56.5"/><line x1="214.3" y1="41.7" x2="216.3" y2="41.7"/><line x1="214.3" y1="33.1" x2="216.3" y2="33.1"/><line x1="214.3" y1="27.0" x2="216.3" y2="27.0"/><line x1="214.3" y1="22.3" x2="216.3" y2="22.3"/><line x1="214.3" y1="18.4" x2="216.3" y2="18.4"/><line x1="214.3" y1="15.1" x2="216.3" y2="15.1"/><line x1="214.3" y1="12.2" x2="216.3" y2="12.2"/><line x1="214.3" y1="9.7" x2="216.3" y2="9.7"/><line x1="212.8" y1="7.5" x2="216.3" y2="7.5"/><line x1="216.3" y1="139.3" x2="216.3" y2="142.5"/><line x1="230.9" y1="139.3" x2="230.9" y2="141.5"/><line x1="245.5" y1="139.3" x2="245.5" y2="142.5"/><line x1="260.1" y1="139.3" x2="260.1" y2="141.5"/><line x1="274.7" y1="139.3" x2="274.7" y2="142.5"/><line x1="289.3" y1="139.3" x2="289.3" y2="141.5"/><line x1="303.9" y1="139.3" x2="303.9" y2="142.5"/><line x1="318.5" y1="139.3" x2="318.5" y2="141.5"/><line x1="333.1" y1="139.3" x2="333.1" y2="142.5"/><line x1="347.7" y1="139.3" x2="347.7" y2="141.5"/><line x1="362.3" y1="139.3" x2="362.3" y2="142.5"/><line x1="376.9" y1="139.3" x2="376.9" y2="141.5"/></g>
<line x1="215.70000000000002" y1="130.5" x2="377.0" y2="130.5" stroke="#ff00ff" stroke-width="1.6"/>
<g fill="#000">
<circle cx="218.9" cy="119.3" r="1.65"/>
<circle cx="222.0" cy="121.5" r="1.65"/>
<circle cx="225.0" cy="108.9" r="1.65"/>
<circle cx="226.9" cy="118.9" r="1.65"/>
<circle cx="228.2" cy="127.5" r="1.65"/>
<circle cx="231.3" cy="111.6" r="1.65"/>
<circle cx="232.2" cy="125.5" r="1.65"/>
<circle cx="233.9" cy="118.2" r="1.65"/>
<circle cx="235.6" cy="119.9" r="1.65"/>
<circle cx="238.3" cy="103.2" r="1.65"/>
<circle cx="240.5" cy="115.2" r="1.65"/>
<circle cx="242.3" cy="108.3" r="1.65"/>
<circle cx="246.5" cy="101.4" r="1.65"/>
<circle cx="248.1" cy="108.5" r="1.65"/>
<circle cx="249.8" cy="123.9" r="1.65"/>
<circle cx="251.5" cy="119.9" r="1.65"/>
<circle cx="253.8" cy="125.5" r="1.65"/>
<circle cx="255.1" cy="118.6" r="1.65"/>
<circle cx="256.5" cy="127.1" r="1.65"/>
<circle cx="259.8" cy="99.2" r="1.65"/>
<circle cx="261.1" cy="127.9" r="1.65"/>
<circle cx="262.2" cy="125.8" r="1.65"/>
<circle cx="264.4" cy="122.2" r="1.65"/>
<circle cx="266.2" cy="122.9" r="1.65"/>
<circle cx="267.6" cy="115.2" r="1.65"/>
<circle cx="269.7" cy="125.2" r="1.65"/>
<circle cx="272.9" cy="108.5" r="1.65"/>
<circle cx="274.2" cy="127.1" r="1.65"/>
<circle cx="277.3" cy="108.9" r="1.65"/>
<circle cx="278.6" cy="127.5" r="1.65"/>
<circle cx="281.6" cy="122.6" r="1.65"/>
<circle cx="281.9" cy="130.5" r="1.65"/>
<circle cx="283.2" cy="126.6" r="1.65"/>
<circle cx="284.8" cy="118.9" r="1.65"/>
<circle cx="286.5" cy="115.6" r="1.65"/>
<circle cx="288.3" cy="118.6" r="1.65"/>
<circle cx="289.9" cy="112.0" r="1.65"/>
<circle cx="291.8" cy="120.5" r="1.65"/>
<circle cx="293.2" cy="122.6" r="1.65"/>
<circle cx="294.5" cy="123.1" r="1.65"/>
<circle cx="296.7" cy="123.1" r="1.65"/>
<circle cx="298.9" cy="118.6" r="1.65"/>
<circle cx="301.5" cy="129.2" r="1.65"/>
<circle cx="302.5" cy="118.9" r="1.65"/>
<circle cx="304.2" cy="121.3" r="1.65"/>
<circle cx="305.8" cy="122.9" r="1.65"/>
<circle cx="307.4" cy="122.6" r="1.65"/>
<circle cx="309.1" cy="125.2" r="1.65"/>
<circle cx="306.9" cy="122.5" r="1.65"/>
<circle cx="316.2" cy="111.4" r="1.65"/>
<circle cx="319.9" cy="128.1" r="1.65"/>
<circle cx="337.9" cy="125.3" r="1.65"/>
</g>
<g stroke="#0000ff" stroke-opacity="0.53" stroke-width="1">
<line x1="41.1" y1="277.4" x2="41.1" y2="224.4"/>
<line x1="44.7" y1="277.4" x2="44.7" y2="212.3"/>
<line x1="46.8" y1="277.4" x2="46.8" y2="205.4"/>
<line x1="51.4" y1="277.4" x2="51.4" y2="201.3"/>
<line x1="54.4" y1="277.4" x2="54.4" y2="224.4"/>
<line x1="55.9" y1="277.4" x2="55.9" y2="215.9"/>
<line x1="57.5" y1="277.4" x2="57.5" y2="212.3"/>
<line x1="62.3" y1="277.4" x2="62.3" y2="207.4"/>
<line x1="63.6" y1="277.4" x2="63.6" y2="202.1"/>
<line x1="73.3" y1="277.4" x2="73.3" y2="196.8"/>
<line x1="74.5" y1="277.4" x2="74.5" y2="195.6"/>
<line x1="75.2" y1="277.4" x2="75.2" y2="215.7"/>
<line x1="78.5" y1="277.4" x2="78.5" y2="183.3"/>
<line x1="80.2" y1="277.4" x2="80.2" y2="211.7"/>
<line x1="83.5" y1="277.4" x2="83.5" y2="205.8"/>
<line x1="88.5" y1="277.4" x2="88.5" y2="201.0"/>
<line x1="88.9" y1="277.4" x2="88.9" y2="181.6"/>
<line x1="90.4" y1="277.4" x2="90.4" y2="196.3"/>
<line x1="92.0" y1="277.4" x2="92.0" y2="194.7"/>
<line x1="93.4" y1="277.4" x2="93.4" y2="193.0"/>
<line x1="98.4" y1="277.4" x2="98.4" y2="225.2"/>
<line x1="99.8" y1="277.4" x2="99.8" y2="221.2"/>
<line x1="101.5" y1="277.4" x2="101.5" y2="216.0"/>
<line x1="102.4" y1="277.4" x2="102.4" y2="181.4"/>
<line x1="103.6" y1="277.4" x2="103.6" y2="191.6"/>
<line x1="108.5" y1="277.4" x2="108.5" y2="230.6"/>
<line x1="109.8" y1="277.4" x2="109.8" y2="177.1"/>
<line x1="111.2" y1="277.4" x2="111.2" y2="190.2"/>
<line x1="112.6" y1="277.4" x2="112.6" y2="175.1"/>
<line x1="114.0" y1="277.4" x2="114.0" y2="174.7"/>
<line x1="115.8" y1="277.4" x2="115.8" y2="174.4"/>
<line x1="117.4" y1="277.4" x2="117.4" y2="174.0"/>
<line x1="119.1" y1="277.4" x2="119.1" y2="173.6"/>
<line x1="119.9" y1="277.4" x2="119.9" y2="188.2"/>
<line x1="121.8" y1="277.4" x2="121.8" y2="187.1"/>
<line x1="127.1" y1="277.4" x2="127.1" y2="186.4"/>
<line x1="128.2" y1="277.4" x2="128.2" y2="182.9"/>
<line x1="128.7" y1="277.4" x2="128.7" y2="171.9"/>
<line x1="129.1" y1="277.4" x2="129.1" y2="172.0"/>
<line x1="134.9" y1="277.4" x2="134.9" y2="171.6"/>
<line x1="137.0" y1="277.4" x2="137.0" y2="171.3"/>
<line x1="139.0" y1="277.4" x2="139.0" y2="171.0"/>
<line x1="141.1" y1="277.4" x2="141.1" y2="170.6"/>
<line x1="143.4" y1="277.4" x2="143.4" y2="170.3"/>
<line x1="147.3" y1="277.4" x2="147.3" y2="170.0"/>
<line x1="150.1" y1="277.4" x2="150.1" y2="169.6"/>
<line x1="152.1" y1="277.4" x2="152.1" y2="169.3"/>
<line x1="130.8" y1="277.4" x2="130.8" y2="182.2"/>
<line x1="132.8" y1="277.4" x2="132.8" y2="181.6"/>
<line x1="137.5" y1="277.4" x2="137.5" y2="180.9"/>
<line x1="138.5" y1="277.4" x2="138.5" y2="180.5"/>
<line x1="142.5" y1="277.4" x2="142.5" y2="179.2"/>
<line x1="144.6" y1="277.4" x2="144.6" y2="178.8"/>
<line x1="153.4" y1="277.4" x2="153.4" y2="159.0"/>
<line x1="155.5" y1="277.4" x2="155.5" y2="158.6"/>
<line x1="157.8" y1="277.4" x2="157.8" y2="158.3"/>
<line x1="159.5" y1="277.4" x2="159.5" y2="157.9"/>
<line x1="163.8" y1="277.4" x2="163.8" y2="157.8"/>
<line x1="165.9" y1="277.4" x2="165.9" y2="157.4"/>
<line x1="168.1" y1="277.4" x2="168.1" y2="157.1"/>
<line x1="169.8" y1="277.4" x2="169.8" y2="156.9"/>
<line x1="172.8" y1="277.4" x2="172.8" y2="156.2"/>
<line x1="113.3" y1="277.4" x2="113.3" y2="175.0"/>
<line x1="116.6" y1="277.4" x2="116.6" y2="174.2"/>
<line x1="118.2" y1="277.4" x2="118.2" y2="173.8"/>
<line x1="131.8" y1="277.4" x2="131.8" y2="172.0"/>
<line x1="133.5" y1="277.4" x2="133.5" y2="171.8"/>
<line x1="136.0" y1="277.4" x2="136.0" y2="171.5"/>
<line x1="145.3" y1="277.4" x2="145.3" y2="170.1"/>
<line x1="148.7" y1="277.4" x2="148.7" y2="169.8"/>
<line x1="164.8" y1="277.4" x2="164.8" y2="157.6"/>
<line x1="166.8" y1="277.4" x2="166.8" y2="157.3"/>
<line x1="167.2" y1="277.4" x2="167.2" y2="157.2"/>
<line x1="164.3" y1="277.4" x2="164.3" y2="157.7"/>
<line x1="140.0" y1="277.4" x2="140.0" y2="180.0"/>
<line x1="146.0" y1="277.4" x2="146.0" y2="178.5"/>
<line x1="156.6" y1="277.4" x2="156.6" y2="158.4"/>
<line x1="152.6" y1="277.4" x2="152.6" y2="169.2"/>
</g>
<g fill="#ff0000">
<rect x="39.6" y="222.9" width="3" height="3"/>
<rect x="43.2" y="210.8" width="3" height="3"/>
<rect x="45.3" y="203.9" width="3" height="3"/>
<rect x="49.9" y="199.8" width="3" height="3"/>
<rect x="52.9" y="222.9" width="3" height="3"/>
<rect x="54.4" y="214.4" width="3" height="3"/>
<rect x="56.0" y="210.8" width="3" height="3"/>
<rect x="60.8" y="205.9" width="3" height="3"/>
<rect x="62.1" y="200.6" width="3" height="3"/>
<rect x="71.8" y="195.3" width="3" height="3"/>
<rect x="73.0" y="194.1" width="3" height="3"/>
<rect x="73.7" y="214.2" width="3" height="3"/>
<rect x="77.0" y="181.8" width="3" height="3"/>
<rect x="78.7" y="210.2" width="3" height="3"/>
<rect x="82.0" y="204.3" width="3" height="3"/>
<rect x="87.0" y="199.5" width="3" height="3"/>
<rect x="87.4" y="180.1" width="3" height="3"/>
<rect x="88.9" y="194.8" width="3" height="3"/>
<rect x="90.5" y="193.2" width="3" height="3"/>
<rect x="91.9" y="191.5" width="3" height="3"/>
<rect x="96.9" y="223.7" width="3" height="3"/>
<rect x="98.3" y="219.7" width="3" height="3"/>
<rect x="100.0" y="214.5" width="3" height="3"/>
<rect x="100.9" y="179.9" width="3" height="3"/>
<rect x="102.1" y="190.1" width="3" height="3"/>
<rect x="107.0" y="229.1" width="3" height="3"/>
<rect x="108.3" y="175.6" width="3" height="3"/>
<rect x="109.7" y="188.7" width="3" height="3"/>
<rect x="111.1" y="173.6" width="3" height="3"/>
<rect x="112.5" y="173.2" width="3" height="3"/>
<rect x="114.3" y="172.9" width="3" height="3"/>
<rect x="115.9" y="172.5" width="3" height="3"/>
<rect x="117.6" y="172.1" width="3" height="3"/>
<rect x="118.4" y="186.7" width="3" height="3"/>
<rect x="120.3" y="185.6" width="3" height="3"/>
<rect x="125.6" y="184.9" width="3" height="3"/>
<rect x="126.7" y="181.4" width="3" height="3"/>
<rect x="127.2" y="170.4" width="3" height="3"/>
<rect x="127.6" y="170.5" width="3" height="3"/>
<rect x="133.4" y="170.1" width="3" height="3"/>
<rect x="135.5" y="169.8" width="3" height="3"/>
<rect x="137.5" y="169.5" width="3" height="3"/>
<rect x="139.6" y="169.1" width="3" height="3"/>
<rect x="141.9" y="168.8" width="3" height="3"/>
<rect x="145.8" y="168.5" width="3" height="3"/>
<rect x="148.6" y="168.1" width="3" height="3"/>
<rect x="150.6" y="167.8" width="3" height="3"/>
<rect x="129.3" y="180.7" width="3" height="3"/>
<rect x="131.3" y="180.1" width="3" height="3"/>
<rect x="136.0" y="179.4" width="3" height="3"/>
<rect x="137.0" y="179.0" width="3" height="3"/>
<rect x="141.0" y="177.7" width="3" height="3"/>
<rect x="143.1" y="177.3" width="3" height="3"/>
<rect x="151.9" y="157.5" width="3" height="3"/>
<rect x="154.0" y="157.1" width="3" height="3"/>
<rect x="156.3" y="156.8" width="3" height="3"/>
<rect x="158.0" y="156.4" width="3" height="3"/>
<rect x="162.3" y="156.3" width="3" height="3"/>
<rect x="164.4" y="155.9" width="3" height="3"/>
<rect x="166.6" y="155.6" width="3" height="3"/>
<rect x="168.3" y="155.4" width="3" height="3"/>
<rect x="171.3" y="154.7" width="3" height="3"/>
</g>
<g stroke="#0000ff" stroke-width="1"><line x1="55.9" y1="222.9" x2="55.9" y2="225.9" stroke-opacity="0.25"/><line x1="63.6" y1="205.9" x2="63.6" y2="208.9" stroke-opacity="0.25"/><line x1="74.5" y1="214.2" x2="74.5" y2="217.2" stroke-opacity="0.25"/><line x1="88.9" y1="199.5" x2="88.9" y2="202.5" stroke-opacity="0.25"/><line x1="88.9" y1="194.8" x2="88.9" y2="197.8" stroke-opacity="0.25"/><line x1="99.8" y1="223.7" x2="99.8" y2="226.7" stroke-opacity="0.25"/><line x1="102.4" y1="214.5" x2="102.4" y2="217.5" stroke-opacity="0.25"/><line x1="102.4" y1="190.1" x2="102.4" y2="193.1" stroke-opacity="0.25"/><line x1="109.8" y1="229.1" x2="109.8" y2="232.1" stroke-opacity="0.25"/><line x1="109.8" y1="188.7" x2="109.8" y2="191.7" stroke-opacity="0.25"/><line x1="112.6" y1="188.7" x2="112.6" y2="191.7" stroke-opacity="0.25"/><line x1="119.1" y1="186.7" x2="119.1" y2="189.7" stroke-opacity="0.25"/><line x1="128.2" y1="184.9" x2="128.2" y2="187.9" stroke-opacity="0.25"/><line x1="128.7" y1="184.9" x2="128.7" y2="187.9" stroke-opacity="0.25"/><line x1="128.7" y1="181.4" x2="128.7" y2="184.4" stroke-opacity="0.25"/><line x1="129.1" y1="181.4" x2="129.1" y2="184.4" stroke-opacity="0.25"/><line x1="153.4" y1="167.8" x2="153.4" y2="170.8" stroke-opacity="0.25"/><line x1="131.8" y1="180.7" x2="131.8" y2="183.7" stroke-opacity="0.25"/><line x1="131.8" y1="180.1" x2="131.8" y2="183.1" stroke-opacity="0.25"/><line x1="133.5" y1="180.1" x2="133.5" y2="183.1" stroke-opacity="0.25"/><line x1="137.0" y1="179.4" x2="137.0" y2="182.4" stroke-opacity="0.25"/><line x1="139.0" y1="179.4" x2="139.0" y2="182.4" stroke-opacity="0.25"/><line x1="136.0" y1="179.4" x2="136.0" y2="182.4" stroke-opacity="0.25"/><line x1="137.0" y1="179.0" x2="137.0" y2="182.0" stroke-opacity="0.25"/><line x1="139.0" y1="179.0" x2="139.0" y2="182.0" stroke-opacity="0.25"/><line x1="141.1" y1="177.7" x2="141.1" y2="180.7" stroke-opacity="0.25"/><line x1="143.4" y1="177.7" x2="143.4" y2="180.7" stroke-opacity="0.25"/><line x1="143.4" y1="177.3" x2="143.4" y2="180.3" stroke-opacity="0.25"/><line x1="145.3" y1="177.3" x2="145.3" y2="180.3" stroke-opacity="0.25"/></g>
<rect x="34" y="147.2" width="161" height="130.2" fill="none" stroke="#000" stroke-width="1.2"/>
<g stroke="#000" stroke-width="1.1"><line x1="32.0" y1="268.7" x2="34" y2="268.7"/><line x1="32.0" y1="260.8" x2="34" y2="260.8"/><line x1="32.0" y1="255.1" x2="34" y2="255.1"/><line x1="32.0" y1="250.8" x2="34" y2="250.8"/><line x1="32.0" y1="247.2" x2="34" y2="247.2"/><line x1="32.0" y1="244.2" x2="34" y2="244.2"/><line x1="32.0" y1="241.6" x2="34" y2="241.6"/><line x1="32.0" y1="239.3" x2="34" y2="239.3"/><line x1="30.5" y1="237.2" x2="34" y2="237.2"/><line x1="32.0" y1="223.6" x2="34" y2="223.6"/><line x1="32.0" y1="215.7" x2="34" y2="215.7"/><line x1="32.0" y1="210.0" x2="34" y2="210.0"/><line x1="32.0" y1="205.7" x2="34" y2="205.7"/><line x1="32.0" y1="202.1" x2="34" y2="202.1"/><line x1="32.0" y1="199.1" x2="34" y2="199.1"/><line x1="32.0" y1="196.5" x2="34" y2="196.5"/><line x1="32.0" y1="194.2" x2="34" y2="194.2"/><line x1="30.5" y1="192.1" x2="34" y2="192.1"/><line x1="32.0" y1="178.5" x2="34" y2="178.5"/><line x1="32.0" y1="170.6" x2="34" y2="170.6"/><line x1="32.0" y1="164.9" x2="34" y2="164.9"/><line x1="32.0" y1="160.6" x2="34" y2="160.6"/><line x1="32.0" y1="157.0" x2="34" y2="157.0"/><line x1="32.0" y1="154.0" x2="34" y2="154.0"/><line x1="32.0" y1="151.4" x2="34" y2="151.4"/><line x1="32.0" y1="149.1" x2="34" y2="149.1"/><line x1="30.5" y1="147.0" x2="34" y2="147.0"/><line x1="34.0" y1="277.4" x2="34.0" y2="280.6"/><line x1="48.6" y1="277.4" x2="48.6" y2="279.6"/><line x1="63.2" y1="277.4" x2="63.2" y2="280.6"/><line x1="77.8" y1="277.4" x2="77.8" y2="279.6"/><line x1="92.4" y1="277.4" x2="92.4" y2="280.6"/><line x1="107.0" y1="277.4" x2="107.0" y2="279.6"/><line x1="121.6" y1="277.4" x2="121.6" y2="280.6"/><line x1="136.2" y1="277.4" x2="136.2" y2="279.6"/><line x1="150.8" y1="277.4" x2="150.8" y2="280.6"/><line x1="165.4" y1="277.4" x2="165.4" y2="279.6"/><line x1="180.0" y1="277.4" x2="180.0" y2="280.6"/><line x1="194.6" y1="277.4" x2="194.6" y2="279.6"/></g>
<line x1="33.4" y1="260.7" x2="195.5" y2="260.7" stroke="#ff00ff" stroke-width="1.6"/>
<g fill="#000">
<circle cx="41.1" cy="228.0" r="1.65"/>
<circle cx="44.7" cy="231.5" r="1.65"/>
<circle cx="46.8" cy="238.0" r="1.65"/>
<circle cx="51.4" cy="249.3" r="1.65"/>
<circle cx="54.4" cy="241.2" r="1.65"/>
<circle cx="55.9" cy="247.9" r="1.65"/>
<circle cx="57.5" cy="243.2" r="1.65"/>
<circle cx="62.3" cy="230.5" r="1.65"/>
<circle cx="63.6" cy="245.9" r="1.65"/>
<circle cx="73.3" cy="198.7" r="1.65"/>
<circle cx="73.3" cy="252.7" r="1.65"/>
<circle cx="75.2" cy="257.9" r="1.65"/>
<circle cx="78.5" cy="237.3" r="1.65"/>
<circle cx="80.2" cy="242.5" r="1.65"/>
<circle cx="83.5" cy="239.9" r="1.65"/>
<circle cx="88.5" cy="227.1" r="1.65"/>
<circle cx="88.9" cy="253.9" r="1.65"/>
<circle cx="90.4" cy="252.7" r="1.65"/>
<circle cx="92.0" cy="238.5" r="1.65"/>
<circle cx="93.4" cy="248.9" r="1.65"/>
<circle cx="98.4" cy="250.8" r="1.65"/>
<circle cx="99.8" cy="259.0" r="1.65"/>
<circle cx="101.5" cy="212.4" r="1.65"/>
<circle cx="102.4" cy="256.7" r="1.65"/>
<circle cx="103.6" cy="256.7" r="1.65"/>
<circle cx="110.2" cy="223.6" r="1.65"/>
<circle cx="111.6" cy="241.5" r="1.65"/>
<circle cx="114.9" cy="241.9" r="1.65"/>
<circle cx="117.1" cy="243.3" r="1.65"/>
<circle cx="119.2" cy="239.1" r="1.65"/>
<circle cx="121.8" cy="247.7" r="1.65"/>
<circle cx="113.0" cy="251.6" r="1.65"/>
<circle cx="120.2" cy="252.2" r="1.65"/>
<circle cx="108.4" cy="256.4" r="1.65"/>
<circle cx="127.3" cy="223.6" r="1.65"/>
<circle cx="129.1" cy="256.4" r="1.65"/>
<circle cx="132.8" cy="245.3" r="1.65"/>
<circle cx="136.3" cy="247.0" r="1.65"/>
<circle cx="138.3" cy="247.4" r="1.65"/>
<circle cx="141.4" cy="244.2" r="1.65"/>
<circle cx="131.0" cy="251.3" r="1.65"/>
<circle cx="134.6" cy="252.9" r="1.65"/>
<circle cx="137.0" cy="254.3" r="1.65"/>
<circle cx="139.7" cy="255.3" r="1.65"/>
<circle cx="141.8" cy="256.4" r="1.65"/>
<circle cx="145.2" cy="252.9" r="1.65"/>
<circle cx="143.9" cy="261.2" r="1.65"/>
<circle cx="148.0" cy="259.1" r="1.65"/>
<circle cx="151.4" cy="255.0" r="1.65"/>
<circle cx="152.6" cy="177.1" r="1.65"/>
<circle cx="164.0" cy="225.4" r="1.65"/>
<circle cx="156.1" cy="241.8" r="1.65"/>
<circle cx="157.5" cy="240.8" r="1.65"/>
<circle cx="159.0" cy="246.1" r="1.65"/>
<circle cx="151.4" cy="254.4" r="1.65"/>
<circle cx="154.1" cy="253.8" r="1.65"/>
<circle cx="165.2" cy="257.7" r="1.65"/>
<circle cx="166.6" cy="255.5" r="1.65"/>
<circle cx="168.5" cy="253.4" r="1.65"/>
<circle cx="167.4" cy="257.7" r="1.65"/>
<circle cx="172.7" cy="256.5" r="1.65"/>
</g>
<g stroke="#0000ff" stroke-opacity="0.5" stroke-width="1">
<line x1="251.4" y1="277.2" x2="251.4" y2="188.8"/>
<line x1="258.1" y1="277.2" x2="258.1" y2="184.8"/>
<line x1="264.8" y1="277.2" x2="264.8" y2="181.6"/>
<line x1="267.4" y1="277.2" x2="267.4" y2="180.5"/>
<line x1="271.7" y1="277.2" x2="271.7" y2="178.3"/>
<line x1="280.3" y1="277.2" x2="280.3" y2="175.3"/>
<line x1="285.7" y1="277.2" x2="285.7" y2="173.3"/>
<line x1="289.5" y1="277.2" x2="289.5" y2="172.2"/>
<line x1="291.6" y1="277.2" x2="291.6" y2="171.7"/>
<line x1="304.3" y1="277.2" x2="304.3" y2="167.9"/>
</g>
<g fill="#ff0000">
<rect x="249.9" y="187.3" width="3" height="3"/>
<rect x="256.6" y="183.3" width="3" height="3"/>
<rect x="263.3" y="180.1" width="3" height="3"/>
<rect x="265.9" y="179.0" width="3" height="3"/>
<rect x="270.2" y="176.8" width="3" height="3"/>
<rect x="278.8" y="173.8" width="3" height="3"/>
<rect x="284.2" y="171.8" width="3" height="3"/>
<rect x="288.0" y="170.7" width="3" height="3"/>
<rect x="290.1" y="170.2" width="3" height="3"/>
<rect x="302.8" y="166.4" width="3" height="3"/>
</g>
<g stroke="#0000ff" stroke-width="1"></g>
<rect x="216.3" y="147.7" width="160.2" height="129.5" fill="none" stroke="#000" stroke-width="1.2"/>
<g stroke="#000" stroke-width="1.1"><line x1="214.3" y1="277.7" x2="216.3" y2="277.7"/><line x1="214.3" y1="271.2" x2="216.3" y2="271.2"/><line x1="214.3" y1="266.2" x2="216.3" y2="266.2"/><line x1="214.3" y1="262.1" x2="216.3" y2="262.1"/><line x1="214.3" y1="258.7" x2="216.3" y2="258.7"/><line x1="214.3" y1="255.7" x2="216.3" y2="255.7"/><line x1="214.3" y1="253.1" x2="216.3" y2="253.1"/><line x1="212.8" y1="250.7" x2="216.3" y2="250.7"/><line x1="214.3" y1="235.2" x2="216.3" y2="235.2"/><line x1="214.3" y1="226.1" x2="216.3" y2="226.1"/><line x1="214.3" y1="219.6" x2="216.3" y2="219.6"/><line x1="214.3" y1="214.6" x2="216.3" y2="214.6"/><line x1="214.3" y1="210.5" x2="216.3" y2="210.5"/><line x1="214.3" y1="207.1" x2="216.3" y2="207.1"/><line x1="214.3" y1="204.1" x2="216.3" y2="204.1"/><line x1="214.3" y1="201.5" x2="216.3" y2="201.5"/><line x1="212.8" y1="199.1" x2="216.3" y2="199.1"/><line x1="214.3" y1="183.6" x2="216.3" y2="183.6"/><line x1="214.3" y1="174.5" x2="216.3" y2="174.5"/><line x1="214.3" y1="168.0" x2="216.3" y2="168.0"/><line x1="214.3" y1="163.0" x2="216.3" y2="163.0"/><line x1="214.3" y1="158.9" x2="216.3" y2="158.9"/><line x1="214.3" y1="155.5" x2="216.3" y2="155.5"/><line x1="214.3" y1="152.5" x2="216.3" y2="152.5"/><line x1="214.3" y1="149.9" x2="216.3" y2="149.9"/><line x1="212.8" y1="147.5" x2="216.3" y2="147.5"/><line x1="216.3" y1="277.2" x2="216.3" y2="280.4"/><line x1="230.9" y1="277.2" x2="230.9" y2="279.4"/><line x1="245.5" y1="277.2" x2="245.5" y2="280.4"/><line x1="260.1" y1="277.2" x2="260.1" y2="279.4"/><line x1="274.7" y1="277.2" x2="274.7" y2="280.4"/><line x1="289.3" y1="277.2" x2="289.3" y2="279.4"/><line x1="303.9" y1="277.2" x2="303.9" y2="280.4"/><line x1="318.5" y1="277.2" x2="318.5" y2="279.4"/><line x1="333.1" y1="277.2" x2="333.1" y2="280.4"/><line x1="347.7" y1="277.2" x2="347.7" y2="279.4"/><line x1="362.3" y1="277.2" x2="362.3" y2="280.4"/><line x1="376.9" y1="277.2" x2="376.9" y2="279.4"/></g>
<line x1="215.70000000000002" y1="257.0" x2="377.0" y2="257.0" stroke="#ff00ff" stroke-width="1.6"/>
<g fill="#000">
<circle cx="251.4" cy="254.1" r="1.65"/>
<circle cx="258.1" cy="255.2" r="1.65"/>
<circle cx="264.8" cy="249.0" r="1.65"/>
<circle cx="267.4" cy="250.0" r="1.65"/>
<circle cx="271.7" cy="252.9" r="1.65"/>
<circle cx="280.3" cy="252.6" r="1.65"/>
<circle cx="285.7" cy="254.1" r="1.65"/>
<circle cx="289.5" cy="253.8" r="1.65"/>
<circle cx="291.6" cy="255.5" r="1.65"/>
<circle cx="304.3" cy="255.9" r="1.65"/>
</g>
<g stroke="#0000ff" stroke-opacity="0.5" stroke-width="1">
<line x1="42.8" y1="408.2" x2="42.8" y2="355.4"/>
<line x1="50.1" y1="408.2" x2="50.1" y2="345.2"/>
<line x1="67.1" y1="408.2" x2="67.1" y2="337.0"/>
<line x1="86.4" y1="408.2" x2="86.4" y2="347.5"/>
<line x1="90.6" y1="408.2" x2="90.6" y2="338.5"/>
<line x1="92.5" y1="408.2" x2="92.5" y2="332.9"/>
<line x1="97.8" y1="408.2" x2="97.8" y2="334.2"/>
<line x1="99.7" y1="408.2" x2="99.7" y2="331.1"/>
<line x1="102.1" y1="408.2" x2="102.1" y2="321.3"/>
<line x1="106.0" y1="408.2" x2="106.0" y2="320.2"/>
<line x1="127.5" y1="408.2" x2="127.5" y2="339.3"/>
<line x1="129.5" y1="408.2" x2="129.5" y2="337.0"/>
<line x1="143.3" y1="408.2" x2="143.3" y2="328.6"/>
<line x1="153.4" y1="408.2" x2="153.4" y2="325.5"/>
<line x1="178.4" y1="408.2" x2="178.4" y2="315.2"/>
<line x1="180.4" y1="408.2" x2="180.4" y2="302.5"/>
</g>
<g fill="#ff0000">
<rect x="41.3" y="353.9" width="3" height="3"/>
<rect x="48.6" y="343.7" width="3" height="3"/>
<rect x="65.6" y="335.5" width="3" height="3"/>
<rect x="84.9" y="346.0" width="3" height="3"/>
<rect x="89.1" y="337.0" width="3" height="3"/>
<rect x="91.0" y="331.4" width="3" height="3"/>
<rect x="96.3" y="332.7" width="3" height="3"/>
<rect x="98.2" y="329.6" width="3" height="3"/>
<rect x="100.6" y="319.8" width="3" height="3"/>
<rect x="104.5" y="318.7" width="3" height="3"/>
<rect x="126.0" y="337.8" width="3" height="3"/>
<rect x="128.0" y="335.5" width="3" height="3"/>
<rect x="141.8" y="327.1" width="3" height="3"/>
<rect x="151.9" y="324.0" width="3" height="3"/>
<rect x="176.9" y="313.7" width="3" height="3"/>
<rect x="178.9" y="301.0" width="3" height="3"/>
</g>
<g stroke="#0000ff" stroke-width="1"></g>
<rect x="34" y="285.0" width="161" height="123.19999999999999" fill="none" stroke="#000" stroke-width="1.2"/>
<g stroke="#000" stroke-width="1.1"><line x1="32.0" y1="408.2" x2="34" y2="408.2"/><line x1="32.0" y1="402.1" x2="34" y2="402.1"/><line x1="32.0" y1="397.4" x2="34" y2="397.4"/><line x1="32.0" y1="393.5" x2="34" y2="393.5"/><line x1="32.0" y1="390.2" x2="34" y2="390.2"/><line x1="32.0" y1="387.3" x2="34" y2="387.3"/><line x1="32.0" y1="384.8" x2="34" y2="384.8"/><line x1="30.5" y1="382.6" x2="34" y2="382.6"/><line x1="32.0" y1="367.8" x2="34" y2="367.8"/><line x1="32.0" y1="359.2" x2="34" y2="359.2"/><line x1="32.0" y1="353.1" x2="34" y2="353.1"/><line x1="32.0" y1="348.4" x2="34" y2="348.4"/><line x1="32.0" y1="344.5" x2="34" y2="344.5"/><line x1="32.0" y1="341.2" x2="34" y2="341.2"/><line x1="32.0" y1="338.3" x2="34" y2="338.3"/><line x1="32.0" y1="335.8" x2="34" y2="335.8"/><line x1="30.5" y1="333.6" x2="34" y2="333.6"/><line x1="32.0" y1="318.8" x2="34" y2="318.8"/><line x1="32.0" y1="310.2" x2="34" y2="310.2"/><line x1="32.0" y1="304.1" x2="34" y2="304.1"/><line x1="32.0" y1="299.4" x2="34" y2="299.4"/><line x1="32.0" y1="295.5" x2="34" y2="295.5"/><line x1="32.0" y1="292.2" x2="34" y2="292.2"/><line x1="32.0" y1="289.3" x2="34" y2="289.3"/><line x1="32.0" y1="286.8" x2="34" y2="286.8"/><line x1="30.5" y1="284.6" x2="34" y2="284.6"/><line x1="34.0" y1="408.2" x2="34.0" y2="411.4"/><line x1="48.6" y1="408.2" x2="48.6" y2="410.4"/><line x1="63.2" y1="408.2" x2="63.2" y2="411.4"/><line x1="77.8" y1="408.2" x2="77.8" y2="410.4"/><line x1="92.4" y1="408.2" x2="92.4" y2="411.4"/><line x1="107.0" y1="408.2" x2="107.0" y2="410.4"/><line x1="121.6" y1="408.2" x2="121.6" y2="411.4"/><line x1="136.2" y1="408.2" x2="136.2" y2="410.4"/><line x1="150.8" y1="408.2" x2="150.8" y2="411.4"/><line x1="165.4" y1="408.2" x2="165.4" y2="410.4"/><line x1="180.0" y1="408.2" x2="180.0" y2="411.4"/><line x1="194.6" y1="408.2" x2="194.6" y2="410.4"/></g>
<line x1="33.4" y1="389.0" x2="195.5" y2="389.0" stroke="#ff00ff" stroke-width="1.6"/>
<g fill="#000">
<circle cx="42.8" cy="388.7" r="1.65"/>
<circle cx="50.1" cy="371.8" r="1.65"/>
<circle cx="67.1" cy="381.4" r="1.65"/>
<circle cx="86.4" cy="380.4" r="1.65"/>
<circle cx="90.6" cy="381.7" r="1.65"/>
<circle cx="92.5" cy="340.7" r="1.65"/>
<circle cx="97.8" cy="374.9" r="1.65"/>
<circle cx="99.7" cy="382.9" r="1.65"/>
<circle cx="102.1" cy="385.8" r="1.65"/>
<circle cx="106.0" cy="375.1" r="1.65"/>
<circle cx="127.7" cy="385.3" r="1.65"/>
<circle cx="129.7" cy="386.3" r="1.65"/>
<circle cx="143.5" cy="384.2" r="1.65"/>
<circle cx="153.5" cy="387.8" r="1.65"/>
<circle cx="178.4" cy="319.5" r="1.65"/>
<circle cx="180.4" cy="316.1" r="1.65"/>
</g>
<g stroke="#0000ff" stroke-opacity="0.5" stroke-width="1">
<line x1="299.6" y1="408.2" x2="299.6" y2="311.7"/>
</g>
<g fill="#ff0000">
<rect x="298.1" y="310.2" width="3" height="3"/>
</g>
<g stroke="#0000ff" stroke-width="1"></g>
<rect x="216.3" y="285.1" width="160.2" height="123.09999999999997" fill="none" stroke="#000" stroke-width="1.2"/>
<g stroke="#000" stroke-width="1.1"><line x1="214.3" y1="392.2" x2="216.3" y2="392.2"/><line x1="214.3" y1="381.0" x2="216.3" y2="381.0"/><line x1="214.3" y1="373.1" x2="216.3" y2="373.1"/><line x1="214.3" y1="366.9" x2="216.3" y2="366.9"/><line x1="214.3" y1="361.9" x2="216.3" y2="361.9"/><line x1="214.3" y1="357.6" x2="216.3" y2="357.6"/><line x1="214.3" y1="354.0" x2="216.3" y2="354.0"/><line x1="214.3" y1="350.7" x2="216.3" y2="350.7"/><line x1="212.8" y1="347.8" x2="216.3" y2="347.8"/><line x1="214.3" y1="328.7" x2="216.3" y2="328.7"/><line x1="214.3" y1="317.5" x2="216.3" y2="317.5"/><line x1="214.3" y1="309.6" x2="216.3" y2="309.6"/><line x1="214.3" y1="303.4" x2="216.3" y2="303.4"/><line x1="214.3" y1="298.4" x2="216.3" y2="298.4"/><line x1="214.3" y1="294.1" x2="216.3" y2="294.1"/><line x1="214.3" y1="290.5" x2="216.3" y2="290.5"/><line x1="214.3" y1="287.2" x2="216.3" y2="287.2"/><line x1="216.3" y1="408.2" x2="216.3" y2="411.4"/><line x1="230.9" y1="408.2" x2="230.9" y2="410.4"/><line x1="245.5" y1="408.2" x2="245.5" y2="411.4"/><line x1="260.1" y1="408.2" x2="260.1" y2="410.4"/><line x1="274.7" y1="408.2" x2="274.7" y2="411.4"/><line x1="289.3" y1="408.2" x2="289.3" y2="410.4"/><line x1="303.9" y1="408.2" x2="303.9" y2="411.4"/><line x1="318.5" y1="408.2" x2="318.5" y2="410.4"/><line x1="333.1" y1="408.2" x2="333.1" y2="411.4"/><line x1="347.7" y1="408.2" x2="347.7" y2="410.4"/><line x1="362.3" y1="408.2" x2="362.3" y2="411.4"/><line x1="376.9" y1="408.2" x2="376.9" y2="410.4"/></g>
<line x1="215.70000000000002" y1="394.2" x2="377.0" y2="394.2" stroke="#ff00ff" stroke-width="1.6"/>
<g fill="#000">
<circle cx="299.6" cy="390.7" r="1.65"/>
</g>
<g fill="#000">
<text x="25.7" y="11.5" font-size="11.5" text-anchor="end">10</text>
<text x="26.1" y="4.9" font-size="7" stroke="#000" stroke-width="0.18">8</text>
<text x="25.7" y="91.0" font-size="11.5" text-anchor="end">10</text>
<text x="26.1" y="84.4" font-size="7" stroke="#000" stroke-width="0.18">6</text>
<text x="37.8" y="19.2" font-size="12">(a)</text>
<text x="35.8" y="34.0" font-size="12"><tspan font-style="italic">α</tspan><tspan fill="#9a9a9a" stroke="#9a9a9a" stroke-width="1.1">=</tspan>0.65, <tspan font-style="italic">β</tspan><tspan fill="#9a9a9a" stroke="#9a9a9a" stroke-width="1.1">=</tspan>0.5</text>
<text x="208.0" y="12.2" font-size="11.5" text-anchor="end">10</text>
<text x="208.4" y="5.6" font-size="7" stroke="#000" stroke-width="0.18">8</text>
<text x="208.0" y="61.2" font-size="11.5" text-anchor="end">10</text>
<text x="208.4" y="54.6" font-size="7" stroke="#000" stroke-width="0.18">7</text>
<text x="208.0" y="110.2" font-size="11.5" text-anchor="end">10</text>
<text x="208.4" y="103.6" font-size="7" stroke="#000" stroke-width="0.18">6</text>
<text x="220.6" y="19.2" font-size="12">(b)</text>
<text x="219.5" y="31.3" font-size="12"><tspan font-style="italic">α</tspan><tspan fill="#9a9a9a" stroke="#9a9a9a" stroke-width="1.1">=</tspan>0.7, <tspan font-style="italic">β</tspan><tspan fill="#9a9a9a" stroke="#9a9a9a" stroke-width="1.1">=</tspan>0.5</text>
<text x="25.7" y="151.7" font-size="11.5" text-anchor="end">10</text>
<text x="26.1" y="145.1" font-size="7" stroke="#000" stroke-width="0.18">8</text>
<text x="25.7" y="196.8" font-size="11.5" text-anchor="end">10</text>
<text x="26.1" y="190.2" font-size="7" stroke="#000" stroke-width="0.18">7</text>
<text x="25.7" y="241.9" font-size="11.5" text-anchor="end">10</text>
<text x="26.1" y="235.3" font-size="7" stroke="#000" stroke-width="0.18">6</text>
<text x="37.8" y="159.8" font-size="12">(c)</text>
<text x="37.9" y="173.1" font-size="12"><tspan font-style="italic">α</tspan><tspan fill="#9a9a9a" stroke="#9a9a9a" stroke-width="1.1">=</tspan>0.7, <tspan font-style="italic">β</tspan><tspan fill="#9a9a9a" stroke="#9a9a9a" stroke-width="1.1">=</tspan>1</text>
<text x="208.0" y="152.2" font-size="11.5" text-anchor="end">10</text>
<text x="208.4" y="145.6" font-size="7" stroke="#000" stroke-width="0.18">8</text>
<text x="208.0" y="203.8" font-size="11.5" text-anchor="end">10</text>
<text x="208.4" y="197.2" font-size="7" stroke="#000" stroke-width="0.18">7</text>
<text x="208.0" y="255.4" font-size="11.5" text-anchor="end">10</text>
<text x="208.4" y="248.8" font-size="7" stroke="#000" stroke-width="0.18">6</text>
<text x="220.4" y="159.8" font-size="12">(d)</text>
<text x="218.0" y="175.9" font-size="12"><tspan font-style="italic">α</tspan><tspan fill="#9a9a9a" stroke="#9a9a9a" stroke-width="1.1">=</tspan>0.75, <tspan font-style="italic">β</tspan><tspan fill="#9a9a9a" stroke="#9a9a9a" stroke-width="1.1">=</tspan>1</text>
<text x="25.7" y="290.1" font-size="11.5" text-anchor="end">10</text>
<text x="26.1" y="283.5" font-size="7" stroke="#000" stroke-width="0.18">8</text>
<text x="25.7" y="338.3" font-size="11.5" text-anchor="end">10</text>
<text x="26.1" y="331.7" font-size="7" stroke="#000" stroke-width="0.18">7</text>
<text x="25.7" y="387.3" font-size="11.5" text-anchor="end">10</text>
<text x="26.1" y="380.7" font-size="7" stroke="#000" stroke-width="0.18">6</text>
<text x="37.1" y="296.0" font-size="12">(e)</text>
<text x="36.6" y="311.1" font-size="12"><tspan font-style="italic">α</tspan><tspan fill="#9a9a9a" stroke="#9a9a9a" stroke-width="1.1">=</tspan>0.75, <tspan font-style="italic">β</tspan><tspan fill="#9a9a9a" stroke="#9a9a9a" stroke-width="1.1">=</tspan>2</text>
<text x="34.0" y="421.8" font-size="11.5" text-anchor="middle">0.5</text>
<text x="63.2" y="421.8" font-size="11.5" text-anchor="middle">0.6</text>
<text x="92.4" y="421.8" font-size="11.5" text-anchor="middle">0.7</text>
<text x="121.6" y="421.8" font-size="11.5" text-anchor="middle">0.8</text>
<text x="150.8" y="421.8" font-size="11.5" text-anchor="middle">0.9</text>
<text x="180.0" y="421.8" font-size="11.5" text-anchor="middle">1.0</text>
<text x="208.0" y="290.5" font-size="11.5" text-anchor="end">10</text>
<text x="208.4" y="283.9" font-size="7" stroke="#000" stroke-width="0.18">8</text>
<text x="208.0" y="352.5" font-size="11.5" text-anchor="end">10</text>
<text x="208.4" y="345.9" font-size="7" stroke="#000" stroke-width="0.18">7</text>
<text x="219.0" y="297.1" font-size="12">(f)</text>
<text x="218.0" y="311.2" font-size="12"><tspan font-style="italic">α</tspan><tspan fill="#9a9a9a" stroke="#9a9a9a" stroke-width="1.1">=</tspan>0.8, <tspan font-style="italic">β</tspan><tspan fill="#9a9a9a" stroke="#9a9a9a" stroke-width="1.1">=</tspan>2</text>
<text x="216.3" y="421.8" font-size="11.5" text-anchor="middle">0.5</text>
<text x="245.5" y="421.8" font-size="11.5" text-anchor="middle">0.6</text>
<text x="274.7" y="421.8" font-size="11.5" text-anchor="middle">0.7</text>
<text x="303.9" y="421.8" font-size="11.5" text-anchor="middle">0.8</text>
<text x="333.1" y="421.8" font-size="11.5" text-anchor="middle">0.9</text>
<text x="362.3" y="421.8" font-size="11.5" text-anchor="middle">1.0</text>
</g>
<text transform="translate(8.3,70.6) rotate(-90)" font-style="italic" font-size="12.5" text-anchor="middle">i</text>
<text transform="translate(8.3,215.8) rotate(-90)" font-style="italic" font-size="12.5" text-anchor="middle">i</text>
<text transform="translate(8.3,347.1) rotate(-90)" font-style="italic" font-size="12.5" text-anchor="middle">i</text>
<text x="106.5" y="433.5" font-style="italic" font-size="15" text-anchor="middle">t</text>
<text x="290" y="431.8" font-style="italic" font-size="15" text-anchor="middle">t</text>
<g fill="#ff00ff" stroke="none">
<line x1="28.8" y1="126.5" x2="33.0" y2="123.7" stroke="#ff00ff" stroke-width="1.5"/>
<path d="M34.0,123.2 L29.4,124.0 L31.2,126.5 Z"/>
<text x="15.0" y="137.8" font-style="italic" font-size="12.5">N</text>
<text x="23.2" y="132.4" font-style="italic" font-size="8">α</text>
</g>
<g fill="#ff00ff" stroke="none">
<line x1="211.1" y1="133.8" x2="215.3" y2="131.0" stroke="#ff00ff" stroke-width="1.5"/>
<path d="M216.3,130.5 L211.7,131.3 L213.5,133.8 Z"/>
<text x="197.5" y="142.6" font-style="italic" font-size="12.5">N</text>
<text x="205.7" y="137.2" font-style="italic" font-size="8">α</text>
</g>
<g fill="#ff00ff" stroke="none">
<line x1="28.8" y1="264.0" x2="33.0" y2="261.2" stroke="#ff00ff" stroke-width="1.5"/>
<path d="M34.0,260.7 L29.4,261.5 L31.2,264.0 Z"/>
<text x="15.6" y="275.4" font-style="italic" font-size="12.5">N</text>
<text x="23.8" y="270.0" font-style="italic" font-size="8">α</text>
</g>
<g fill="#ff00ff" stroke="none">
<line x1="211.1" y1="260.3" x2="215.3" y2="257.5" stroke="#ff00ff" stroke-width="1.5"/>
<path d="M216.3,257.0 L211.7,257.8 L213.5,260.3 Z"/>
<text x="197.5" y="271.1" font-style="italic" font-size="12.5">N</text>
<text x="205.7" y="265.7" font-style="italic" font-size="8">α</text>
</g>
<g fill="#ff00ff" stroke="none">
<line x1="28.8" y1="392.3" x2="33.0" y2="389.5" stroke="#ff00ff" stroke-width="1.5"/>
<path d="M34.0,389.0 L29.4,389.8 L31.2,392.3 Z"/>
<text x="15.6" y="402.6" font-style="italic" font-size="12.5">N</text>
<text x="23.8" y="397.2" font-style="italic" font-size="8">α</text>
</g>
<g fill="#ff00ff" stroke="none">
<line x1="211.1" y1="397.5" x2="215.3" y2="394.7" stroke="#ff00ff" stroke-width="1.5"/>
<path d="M216.3,394.2 L211.7,395.0 L213.5,397.5 Z"/>
<text x="199.5" y="408.5" font-style="italic" font-size="12.5">N</text>
<text x="207.7" y="403.1" font-style="italic" font-size="8">α</text>
</g>
</svg>
</body></html>
